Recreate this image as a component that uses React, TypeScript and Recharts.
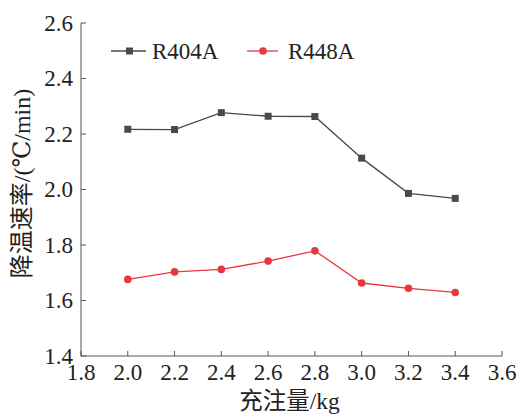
import React from 'react';
import { LineChart, Line, XAxis, YAxis } from 'recharts';

const charge = [2.0, 2.2, 2.4, 2.6, 2.8, 3.0, 3.2, 3.4];
const r404a = [2.217, 2.216, 2.277, 2.264, 2.263, 2.113, 1.986, 1.968];
const r448a = [1.676, 1.703, 1.712, 1.742, 1.779, 1.663, 1.644, 1.629];
const xTicks = [1.8, 2.0, 2.2, 2.4, 2.6, 2.8, 3.0, 3.2, 3.4, 3.6];
const yTicks = [1.4, 1.6, 1.8, 2.0, 2.2, 2.4, 2.6];
const seriesNames = ['R404A', 'R448A'];
const xLabel = '充注量/kg';
const yLabel = '降温速率/(℃/min)';

const data = charge.map((c, i) => ({ x: c, a: r404a[i], b: r448a[i] }));

const FONT = 'Liberation Serif, Times New Roman, DejaVu Serif, Noto Sans CJK SC, serif';
const AXIS = '#555';
const TEXT = '#222';
const GREY = '#4a4a4a';
const RED = '#e8383d';

const XTick = (props: any) => {
  const { x, y, payload } = props;
  return (
    <g>
      <line x1={x} y1={y} x2={x} y2={y - 5} stroke={AXIS} strokeWidth={1} />
      <text x={x} y={y + 23.5} textAnchor="middle" fontSize={23} fill={TEXT} style={{ fontFamily: FONT }}>
        {Number(payload.value).toFixed(1)}
      </text>
    </g>
  );
};

const YTick = (props: any) => {
  const { x, y, payload } = props;
  return (
    <g>
      <line x1={x} y1={y} x2={x + 5} y2={y} stroke={AXIS} strokeWidth={1} />
      <text x={x - 8} y={y + 7.5} textAnchor="end" fontSize={23} fill={TEXT} style={{ fontFamily: FONT }}>
        {Number(payload.value).toFixed(1)}
      </text>
    </g>
  );
};

const XLabelC = (props: any) => {
  const vb = props.viewBox || {};
  return (
    <text x={vb.x + vb.width / 2 - 2} y={vb.y + 45} textAnchor="middle" dominantBaseline="central" fontSize={23.5} fill={TEXT} style={{ fontFamily: FONT }}>
      {xLabel}
    </text>
  );
};

const YLabelC = (props: any) => {
  const vb = props.viewBox || {};
  const cx = 22;
  const cy = vb.y + vb.height / 2 - 6;
  return (
    <text x={cx} y={cy} transform={`rotate(-90 ${cx} ${cy})`} textAnchor="middle" dominantBaseline="central" fontSize={24} fill={TEXT} style={{ fontFamily: FONT }}>
      {yLabel}
    </text>
  );
};

const Square = (props: any) => {
  const { cx, cy } = props;
  if (cx == null || cy == null) return null;
  return <rect x={cx - 3.5} y={cy - 3.5} width={7} height={7} fill={GREY} />;
};

const Dot = (props: any) => {
  const { cx, cy } = props;
  if (cx == null || cy == null) return null;
  return <circle cx={cx} cy={cy} r={3.8} fill={RED} />;
};

const LegendBox = () => (
  <svg width={290} height={26} style={{ position: 'absolute', left: 108, top: 38, overflow: 'visible' }}>
    <line x1={3} y1={13} x2={38} y2={13} stroke={GREY} strokeWidth={1.3} />
    <rect x={18} y={9.5} width={7} height={7} fill={GREY} />
    <text x={44} y={21} fontSize={23} fill={TEXT} style={{ fontFamily: FONT }}>{seriesNames[0]}</text>
    <line x1={139} y1={13} x2={170} y2={13} stroke={RED} strokeWidth={1.3} />
    <circle cx={155} cy={13} r={3.8} fill={RED} />
    <text x={180} y={21} fontSize={23} fill={TEXT} style={{ fontFamily: FONT }}>{seriesNames[1]}</text>
  </svg>
);

export default function App() {
  return (
    <div style={{ position: 'absolute', left: 0, top: 0, width: 519, height: 414, background: '#fff' }}>
      <LineChart width={519} height={414} data={data} margin={{ top: 23, right: 17, left: 0, bottom: 0 }}>
        <XAxis
          dataKey="x"
          type="number"
          domain={[1.8, 3.6]}
          ticks={xTicks}
          interval={0}
          tickSize={0}
          tickMargin={0}
          tick={<XTick />}
          tickLine={false}
          height={58}
          axisLine={{ stroke: AXIS, strokeWidth: 1 }}
          label={<XLabelC />}
        />
        <YAxis
          type="number"
          domain={[1.4, 2.6]}
          ticks={yTicks}
          interval={0}
          tickSize={0}
          tickMargin={0}
          tick={<YTick />}
          tickLine={false}
          width={81}
          axisLine={{ stroke: AXIS, strokeWidth: 1 }}
          label={<YLabelC />}
        />
        <Line dataKey="a" name={seriesNames[0]} stroke={GREY} strokeWidth={1.3} dot={<Square />} activeDot={false} isAnimationActive={false} />
        <Line dataKey="b" name={seriesNames[1]} stroke={RED} strokeWidth={1.3} dot={<Dot />} activeDot={false} isAnimationActive={false} />
      </LineChart>
      <LegendBox />
    </div>
  );
}
